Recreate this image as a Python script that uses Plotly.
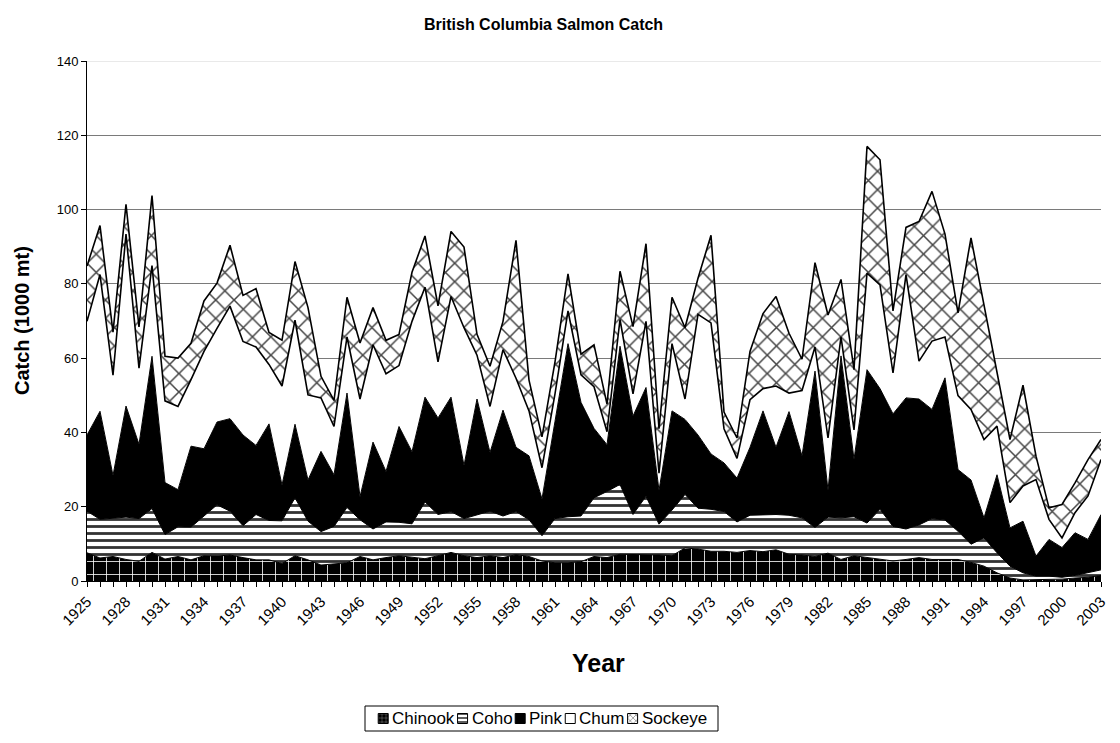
import plotly.graph_objects as go

# ---------------- data (1000 mt) ----------------
years = list(range(1925, 2004))

chinook = [7.6, 6.2, 6.6, 5.8, 5.3, 7.7, 5.9, 6.6, 5.7, 6.8,
           6.7, 7.0, 6.3, 5.7, 5.7, 4.7, 6.8, 5.7, 4.3, 4.7,
           4.9, 6.6, 5.7, 6.3, 6.8, 6.4, 6.0, 6.8, 7.7, 6.8,
           6.3, 6.8, 6.3, 7.1, 6.6, 5.4, 4.9, 4.9, 5.2, 6.6,
           6.3, 7.2, 7.2, 7.2, 7.0, 6.8, 8.9, 8.6, 8.0, 8.0,
           7.7, 8.2, 7.9, 8.4, 7.2, 7.0, 6.6, 7.5, 5.8, 6.8,
           6.3, 5.8, 5.4, 5.8, 6.3, 5.8, 5.8, 5.8, 5.0, 4.0,
           2.2, 0.8, 0.3, 0.3, 0.5, 0.5, 0.8, 1.0, 1.5]

coho = [11.2, 10.4, 10.3, 11.4, 11.5, 11.8, 6.6, 8.0, 8.8, 10.7,
        13.8, 11.8, 8.6, 12.2, 10.6, 11.5, 15.6, 10.4, 9.0, 10.0,
        14.9, 9.9, 8.3, 9.6, 9.0, 9.0, 15.3, 11.1, 11.0, 10.0,
        11.4, 12.0, 11.2, 11.6, 9.9, 6.8, 11.9, 12.4, 12.3, 15.8,
        17.8, 18.8, 10.7, 15.6, 8.3, 12.3, 14.4, 11.0, 11.3, 10.7,
        8.2, 9.5, 9.9, 9.5, 10.5, 10.0, 7.8, 9.7, 11.2, 10.5,
        9.3, 13.5, 9.3, 8.2, 8.8, 11.0, 10.6, 7.6, 4.9, 7.6,
        5.4, 3.2, 1.9, 1.0, 0.8, 0.5, 0.7, 1.2, 1.5]

pink = [20.5, 29.1, 11.5, 29.9, 20.0, 41.0, 14.0, 10.0, 21.8, 18.1,
        22.3, 24.9, 24.4, 18.6, 26.0, 9.6, 19.8, 11.1, 21.6, 13.9,
        30.8, 6.2, 23.4, 13.6, 25.8, 19.4, 28.2, 26.0, 30.8, 14.3,
        31.3, 15.8, 28.5, 17.3, 17.2, 9.9, 26.2, 46.6, 30.6, 18.7,
        12.6, 37.2, 26.5, 29.3, 9.1, 26.7, 20.2, 19.7, 14.9, 13.1,
        11.8, 18.3, 28.0, 18.1, 27.9, 16.7, 42.1, 7.2, 43.6, 15.5,
        41.3, 32.5, 30.3, 35.3, 33.9, 29.4, 38.3, 16.6, 17.3, 5.4,
        21.0, 10.3, 13.9, 5.4, 9.9, 8.0, 11.5, 9.0, 14.9]

chum = [30.6, 36.8, 27.0, 46.3, 20.5, 24.4, 22.0, 22.4, 17.9, 26.2,
        25.2, 30.3, 25.2, 26.5, 16.0, 26.7, 28.0, 22.9, 14.4, 13.0,
        15.1, 26.3, 26.2, 26.3, 16.4, 35.1, 29.6, 15.1, 27.1, 37.1,
        11.8, 12.4, 16.3, 18.6, 12.1, 8.4, 7.4, 8.8, 7.4, 11.2,
        3.5, 7.2, 6.0, 17.8, 4.6, 18.1, 5.5, 32.5, 35.3, 9.2,
        5.3, 12.8, 6.0, 16.5, 5.0, 17.6, 6.5, 14.1, 5.1, 7.9,
        26.0, 27.9, 11.0, 33.2, 10.2, 18.4, 11.0, 19.9, 19.0, 21.1,
        13.1, 6.8, 9.5, 20.6, 5.4, 2.6, 5.4, 11.7, 14.8]

sockeye = [14.9, 13.2, 11.6, 8.0, 11.1, 18.9, 12.0, 13.0, 9.8, 13.6,
           12.2, 16.4, 12.4, 15.7, 8.6, 12.3, 15.8, 23.5, 5.8, 7.0,
           10.7, 15.1, 10.0, 9.0, 8.4, 13.2, 13.8, 15.1, 17.5, 21.7,
           5.6, 10.8, 7.6, 37.1, 8.3, 8.3, 8.6, 10.0, 5.6, 11.3,
           7.4, 13.0, 18.1, 20.9, 12.0, 12.5, 19.2, 9.7, 23.6, 4.5,
           5.5, 13.0, 20.2, 24.1, 16.1, 8.4, 22.7, 33.1, 15.5, 16.2,
           34.1, 33.7, 16.7, 12.7, 37.6, 40.3, 27.7, 22.3, 46.2, 36.4,
           14.3, 17.0, 27.1, 6.3, 3.1, 9.0, 8.0, 9.8, 5.4]

series_names = ["Chinook", "Coho", "Pink", "Chum", "Sockeye"]
series_values = [chinook, coho, pink, chum, sockeye]

x_tick_years = list(range(1925, 2004, 3))
y_tick_values = list(range(0, 141, 20))

# ---------------- geometry (page pixels; the page body adds an 8px offset) ----------------
OFF = 8
W, H = 1120 - 2 * OFF, 743 - 2 * OFF
PL, PR, PT, PB = 87, 1101, 61, 581        # plot area in page pixels
def px(x):
    return (x - OFF) / W
def py(y):
    return 1 - (y - OFF) / H

FONT = "Liberation Sans, Arial, Helvetica, sans-serif"

styles = {
    "Chinook": dict(fillcolor="black",
                    fillpattern=dict(shape="+", bgcolor="black", fgcolor="white",
                                     size=13, solidity=0.12),
                    lw=1.0),
    "Coho": dict(fillcolor="white",
                 fillpattern=dict(shape="-", bgcolor="white", fgcolor="#333333",
                                  size=7, solidity=0.4),
                 lw=1.0),
    "Pink": dict(fillcolor="black", fillpattern=None, lw=1.0),
    "Chum": dict(fillcolor="white", fillpattern=None, lw=1.6),
    "Sockeye": dict(fillcolor="white",
                    fillpattern=dict(shape="x", bgcolor="white", fgcolor="#444444",
                                     size=13, solidity=0.22),
                    lw=1.6),
}

fig = go.Figure()

for name, vals in zip(series_names, series_values):
    st = styles[name]
    kw = dict(x=years, y=vals, name=name, mode="lines", stackgroup="salmon",
              line=dict(color="black", width=st["lw"], shape="linear"),
              fillcolor=st["fillcolor"], showlegend=False,
              hovertemplate=name + " %{x}: %{y}<extra></extra>")
    if st["fillpattern"] is not None:
        kw["fillpattern"] = st["fillpattern"]
    fig.add_trace(go.Scatter(**kw))

# ---------------- legend (drawn manually to mimic small square keys) ----------------
LX0, LX1, LY0, LY1 = 365, 718, 706, 731
leg_font = 17
arial_w = {"C": .722, "h": .556, "i": .222, "n": .556, "o": .556, "k": .5,
           "e": .556, "P": .667, "u": .556, "m": .833, "S": .667, "y": .5, "c": .5}
def text_w(s):
    return sum(arial_w[c] for c in s) * leg_font

sw, sw_gap, item_gap = 10, 2, 5
total = sum(sw + sw_gap + text_w(n) for n in series_names) + item_gap * (len(series_names) - 1)
cur = (LX0 + LX1) / 2 - total / 2
ymid = (LY0 + LY1) / 2
annotations = []
for name in series_names:
    st = styles[name]
    xs = [cur, cur + sw, cur + sw, cur, cur]
    ys = [ymid - sw / 2, ymid - sw / 2, ymid + sw / 2, ymid + sw / 2, ymid - sw / 2]
    kw = dict(x=xs, y=ys, xaxis="x2", yaxis="y2", mode="lines", fill="toself",
              line=dict(color="black", width=1), fillcolor=st["fillcolor"],
              showlegend=False, hoverinfo="skip")
    if st["fillpattern"] is not None:
        fp = dict(st["fillpattern"])
        fp["size"] = 4
        kw["fillpattern"] = fp
    fig.add_trace(go.Scatter(**kw))
    annotations.append(dict(x=px(cur + sw + sw_gap), y=py(ymid), xref="paper", yref="paper",
                            text=name, showarrow=False, xanchor="left", yanchor="middle",
                            font=dict(family=FONT, size=leg_font, color="black")))
    cur += sw + sw_gap + text_w(name) + item_gap

# titles
annotations += [
    dict(x=px(543), y=py(25), xref="paper", yref="paper", showarrow=False,
         text="<b>British Columbia Salmon Catch</b>", xanchor="center", yanchor="middle",
         font=dict(family=FONT, size=16, color="black")),
    dict(x=px(598), y=py(663), xref="paper", yref="paper", showarrow=False,
         text="<b>Year</b>", xanchor="center", yanchor="middle",
         font=dict(family=FONT, size=25, color="black")),
    dict(x=px(22), y=py((PT + PB) / 2), xref="paper", yref="paper", showarrow=False,
         text="<b>Catch (1000 mt)</b>", textangle=-90, xanchor="center", yanchor="middle",
         font=dict(family=FONT, size=20, color="black")),
]

shapes = [
    dict(type="rect", xref="paper", yref="paper", x0=px(LX0), x1=px(LX1),
         y0=py(LY1), y1=py(LY0), line=dict(color="black", width=1),
         fillcolor="rgba(0,0,0,0)"),
    dict(type="line", xref="paper", yref="y", x0=px(PL), x1=px(PR), y0=140, y1=140,
         line=dict(color="#d4d4d4", width=1), layer="above"),
]

fig.update_layout(
    template="none",
    width=W, height=H,
    margin=dict(l=0, r=0, t=0, b=0, pad=0),
    paper_bgcolor="white",
    plot_bgcolor="rgba(0,0,0,0)",
    showlegend=False,
    font=dict(family=FONT, size=13, color="black"),
    xaxis=dict(domain=[px(PL), px(PR)], range=[1925, 2003], automargin=False,
               tickmode="array", tickvals=x_tick_years, ticktext=[str(v) for v in x_tick_years],
               tickangle=-45, ticks="outside", ticklen=5, tickcolor="black",
               ticklabeloverflow="allow",
               tickfont=dict(family=FONT, size=15, color="black"),
               minor=dict(tickmode="linear", tick0=1925, dtick=1, ticks="outside",
                          ticklen=5, tickcolor="black", showgrid=False),
               showline=True, linecolor="black", linewidth=1, showgrid=False,
               zeroline=False, fixedrange=True),
    yaxis=dict(domain=[py(PB), py(PT)], range=[0, 140], automargin=False,
               tickmode="array", tickvals=y_tick_values,
               ticks="outside", ticklen=5, tickcolor="black",
               tickfont=dict(family=FONT, size=13, color="black"),
               showline=True, linecolor="black", linewidth=1,
               showgrid=True, gridcolor="#7a7a7a", gridwidth=1,
               zeroline=False, fixedrange=True),
    xaxis2=dict(domain=[0, 1], range=[OFF, OFF + W], visible=False, fixedrange=True),
    yaxis2=dict(domain=[0, 1], range=[OFF + H, OFF], visible=False, fixedrange=True),
    annotations=annotations,
    shapes=shapes,
)

fig.write_html("out.html")
